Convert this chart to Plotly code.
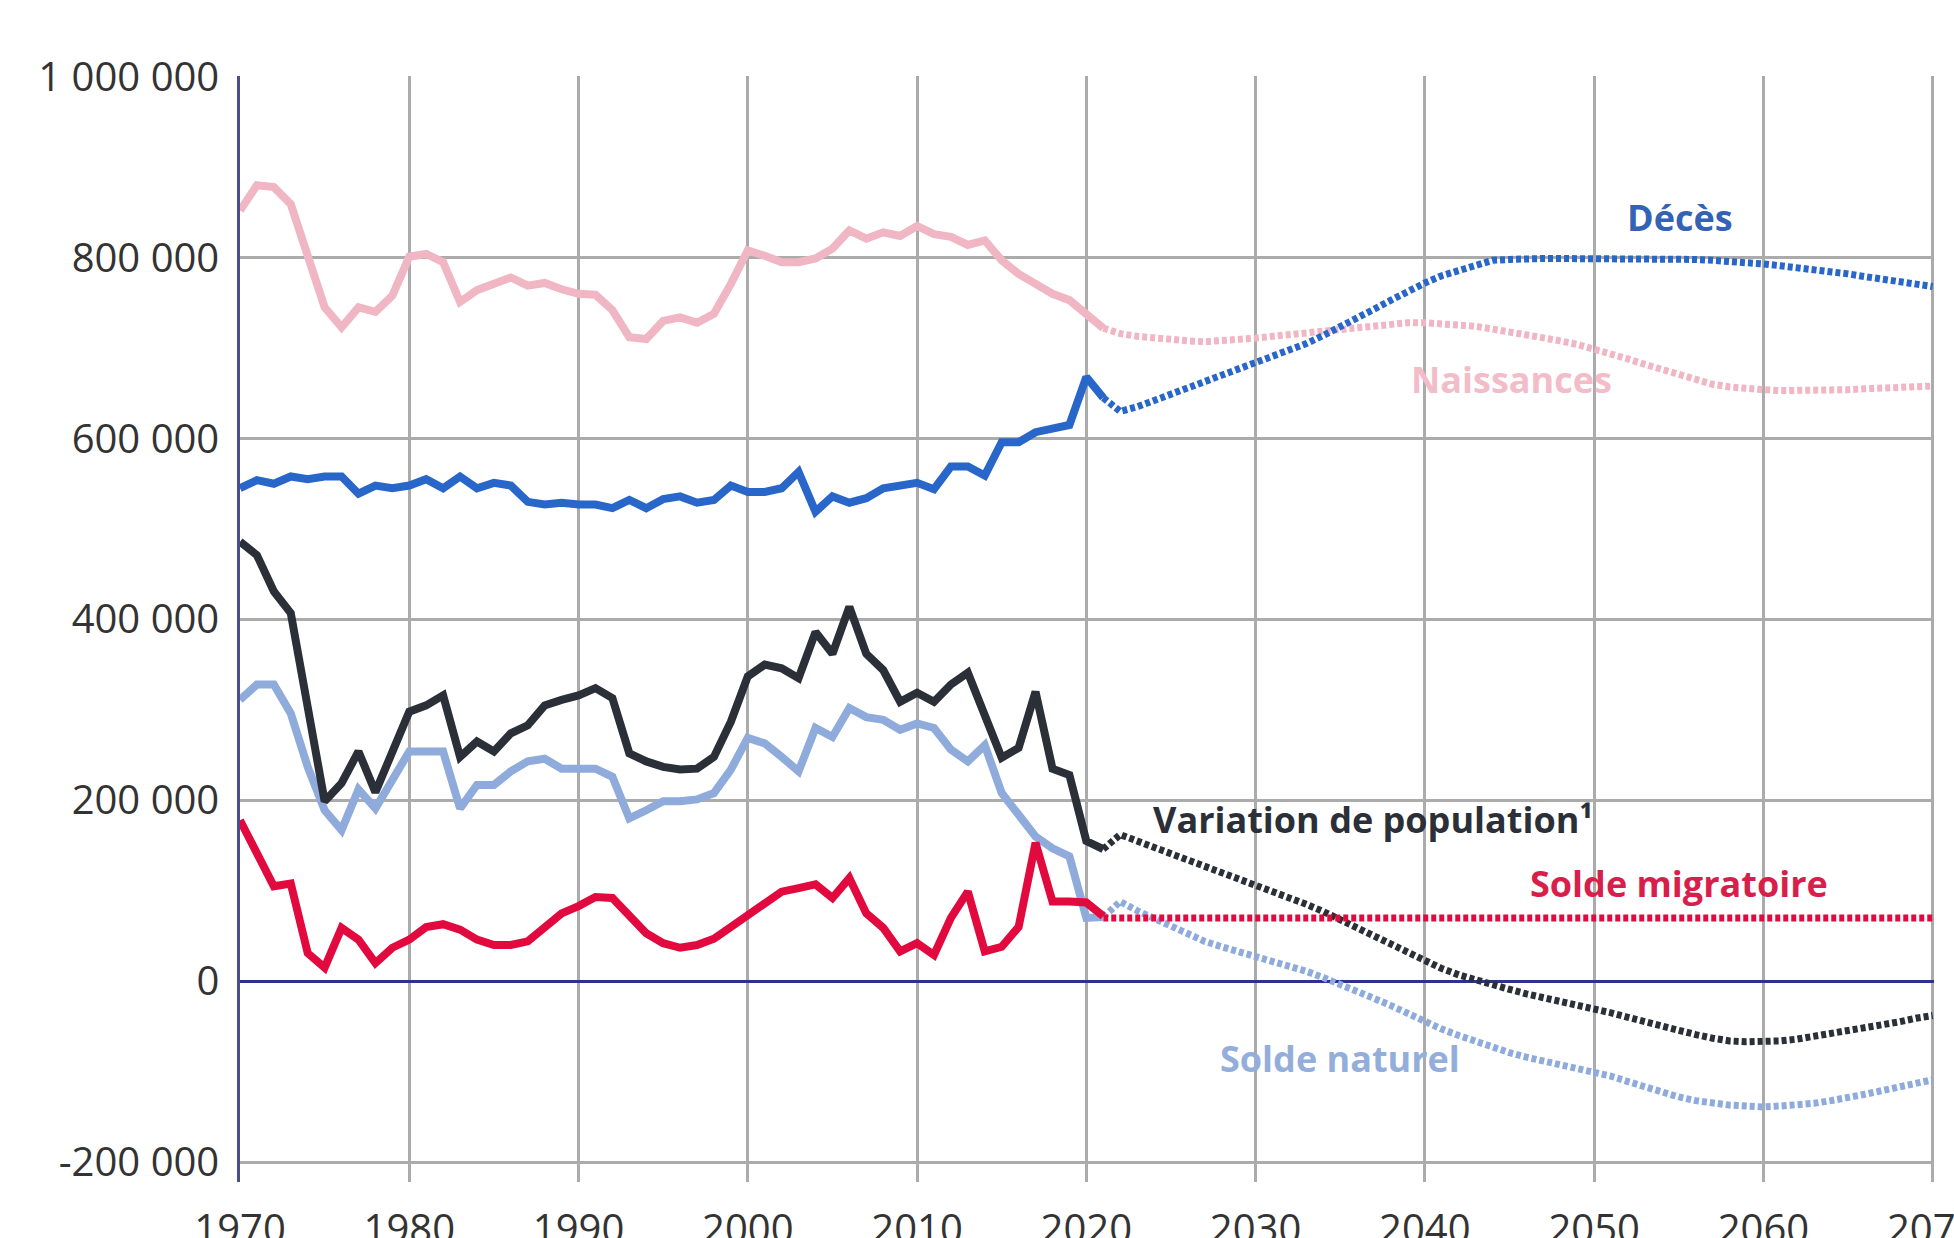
import plotly.graph_objects as go

# ---- data (values in thousands) ----
hist_years = list(range(1970, 2022))
proj_years = list(range(2021, 2071))

naissances_hist = [852, 880, 878, 859, 802, 745, 723, 745, 740, 758,
                   801, 804, 795, 751, 764, 771, 778, 769, 772, 765,
                   760, 759, 742, 712, 710, 730, 734, 728, 738, 771,
                   808, 802, 795, 795, 799, 810, 830, 821, 828, 824,
                   835, 826, 823, 814, 819, 797, 782, 771, 760, 753,
                   737, 722]
deces_hist = [545, 554, 550, 558, 555, 558, 558, 539, 548, 545,
              548, 555, 545, 558, 545, 551, 548, 530, 527, 529,
              527, 527, 523, 532, 523, 533, 536, 529, 532, 548,
              541, 541, 545, 563, 519, 536, 529, 534, 545, 548,
              551, 544, 569, 569, 559, 596, 596, 607, 611, 615,
              668, 645]
variation_hist = [486, 471, 431, 407, 303, 199, 219, 254, 209, 254,
                  298, 305, 316, 248, 265, 254, 274, 283, 305, 311,
                  316, 324, 313, 252, 243, 237, 234, 235, 248, 287,
                  337, 350, 346, 335, 386, 362, 414, 362, 344, 309,
                  319, 309, 328, 341, 292, 247, 258, 320, 235, 228,
                  155, 146]
naturel_hist = [311, 328, 328, 296, 237, 189, 167, 212, 191, 224,
                254, 254, 254, 191, 217, 217, 232, 243, 246, 235,
                235, 235, 226, 180, 189, 199, 199, 201, 208, 234,
                269, 263, 248, 232, 280, 270, 302, 292, 289, 278,
                285, 280, 256, 243, 261, 208, 184, 160, 147, 138,
                70, 71]
migratoire_hist = [178, 142, 105, 108, 31, 15, 59, 46, 20, 37,
                   46, 60, 63, 57, 46, 40, 40, 44, 60, 75,
                   83, 93, 92, 72, 53, 42, 37, 40, 47, 60,
                   73, 88, 99, 103, 107, 92, 114, 75, 59, 33,
                   42, 29, 70, 99, 33, 38, 60, 153, 88, 88,
                   87, 72]

naissances_proj = [722, 716, 713, 711, 709, 708, 707, 708, 709, 711,
                   713, 715, 717, 719, 721, 723, 725, 727, 728, 728,
                   727, 726, 724, 721, 718, 715, 712, 708, 704, 699,
                   694, 688, 682, 676, 670, 664, 660, 657, 655, 654,
                   653, 653, 653, 654, 654, 655, 656, 657, 658, 658]
deces_proj = [645, 630, 635, 642, 649, 656, 663, 670, 676, 683,
              690, 697, 705, 714, 723, 733, 743, 753, 763, 772,
              780, 786, 793, 797, 798, 799, 799, 799, 799, 799,
              799, 799, 799, 799, 799, 798, 797, 796, 795, 793,
              791, 789, 787, 785, 782, 779, 776, 773, 770, 768]
variation_proj = [146, 162, 155, 148, 141, 134, 127, 120, 114, 108,
                  101, 93, 85, 77, 68, 58, 48, 39, 30, 22,
                  14, 7, 1, -4, -9, -14, -18, -22, -26, -30,
                  -35, -40, -45, -50, -55, -59, -63, -66, -67, -67,
                  -66, -64, -61, -58, -55, -51, -48, -45, -41, -38]
naturel_proj = [71, 88, 78, 69, 60, 52, 44, 38, 33, 26,
                21, 16, 11, 4, -3, -11, -19, -27, -36, -45,
                -53, -60, -67, -74, -79, -84, -88, -92, -96, -100,
                -105, -111, -117, -123, -128, -132, -135, -137, -138, -139,
                -138, -137, -135, -132, -129, -125, -121, -117, -113, -109]
migratoire_proj = [70, 70, 70, 70, 70, 70, 70, 70, 70, 70,
                   70, 70, 70, 70, 70, 70, 70, 70, 70, 70,
                   70, 70, 70, 70, 70, 70, 70, 70, 70, 70,
                   70, 70, 70, 70, 70, 70, 70, 70, 70, 70,
                   70, 70, 70, 70, 70, 70, 70, 70, 70, 70]

x_ticks = [1970, 1980, 1990, 2000, 2010, 2020, 2030, 2040, 2050, 2060, 2070]
y_ticks = [-200, 0, 200, 400, 600, 800, 1000]
y_ticktext = ["-200 000", "0", "200 000", "400 000", "600 000", "800 000", "1 000 000"]

# ---- styles ----
C_NAIS = "#F0B6C4"
C_DEC = "#2966C9"
C_VAR = "#2A2F38"
C_NAT = "#8EABDC"
C_MIG = "#E2093F"
LW = 8
DOT = "5px,3px"

fig = go.Figure()

series = [
    (naissances_hist, naissances_proj, C_NAIS),
    (deces_hist, deces_proj, C_DEC),
    (naturel_hist, naturel_proj, C_NAT),
    (variation_hist, variation_proj, C_VAR),
    (migratoire_hist, migratoire_proj, C_MIG),
]
for hist, proj, col in series:
    fig.add_trace(go.Scatter(x=proj_years, y=proj, mode="lines",
                             line=dict(color=col, width=7, dash=DOT),
                             hoverinfo="skip"))
for hist, proj, col in series:
    fig.add_trace(go.Scatter(x=hist_years, y=hist, mode="lines",
                             line=dict(color=col, width=LW),
                             hoverinfo="skip"))

FONT = "Open Sans, Noto Sans, sans-serif"

def label(text, x, y, col, anchor="center"):
    fig.add_annotation(x=x, y=y, xref="x", yref="y", text=text, showarrow=False,
                       xanchor=anchor, yanchor="middle",
                       font=dict(family=FONT, size=36, color=col, weight="bold"))

label("Décès", 2055.1, 844, "#3463B6")
label("Naissances", 2045.1, 665, "#F2BDC9")
label("Variation de population¹", 2023.8, 179, "#2A2F38", anchor="left")
label("Solde migratoire", 2055.0, 108, "#D81F4B")
label("Solde naturel", 2035.0, -86, "#93AEDB")

fig.update_layout(
    width=1954, height=1238,
    margin=dict(l=240, r=20, t=76, b=56),
    paper_bgcolor="white", plot_bgcolor="white",
    showlegend=False,
    font=dict(family=FONT, color="#333333"),
    xaxis=dict(range=[1970, 2070.08], tickvals=x_ticks, showgrid=True,
               gridcolor="#ABABAB", gridwidth=2.5, zeroline=False, showline=False,
               ticks="", tickfont=dict(size=40, color="#333333"),
               ticklabelstandoff=20, ticklabeloverflow="allow",
               automargin=False, fixedrange=True),
    yaxis=dict(range=[-222, 1000.8], tickvals=y_ticks, ticktext=y_ticktext,
               showgrid=True, gridcolor="#ABABAB", gridwidth=2.5,
               zeroline=True, zerolinecolor="#2E3192", zerolinewidth=2.5,
               showline=True, linecolor="#4A4E8C", linewidth=2.5,
               ticks="", tickfont=dict(size=40, color="#333333"),
               ticklabelstandoff=10, ticklabeloverflow="allow",
               automargin=False, fixedrange=True),
)

fig.write_html("out.html", config={"displayModeBar": False},
               post_script="document.body.style.margin='0';document.body.style.overflow='hidden';")
